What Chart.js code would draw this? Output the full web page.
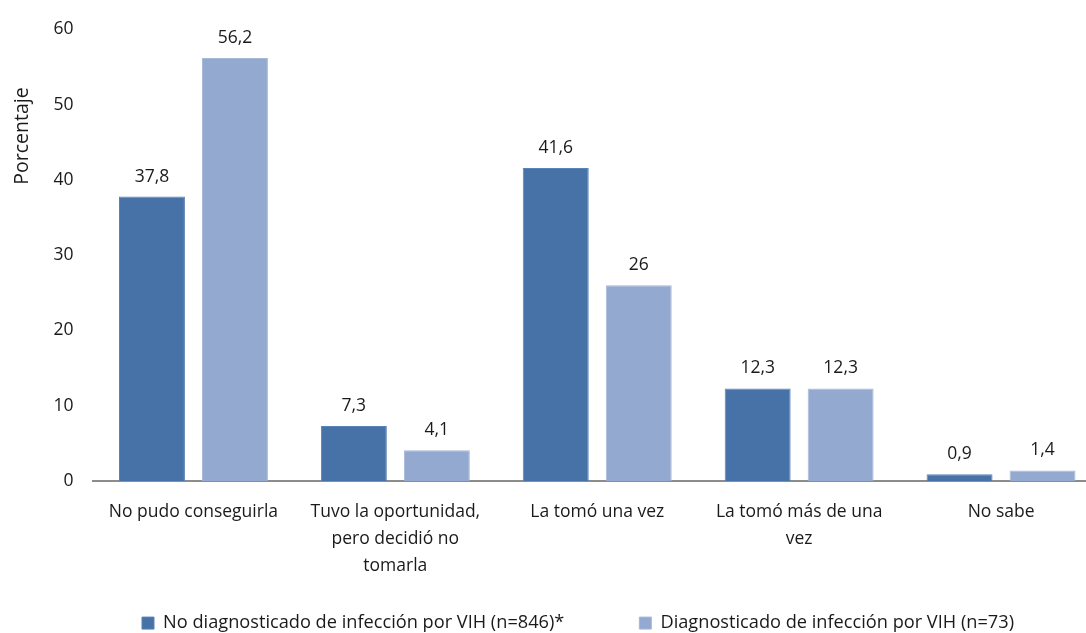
<!DOCTYPE html>
<html>
<head>
<meta charset="utf-8">
<script src="https://cdn.jsdelivr.net/npm/chart.js@4"></script>
<style>
  html, body { margin: 0; padding: 0; background: #fff; overflow: hidden; }
  #wrap { width: 1110px; height: 633px; }
</style>
</head>
<body>
<div id="wrap"><canvas id="grafico"></canvas></div>
<script>
const categorias = [
    ['No pudo conseguirla'],
    ['Tuvo la oportunidad,', 'pero decidió no', 'tomarla'],
    ['La tomó una vez'],
    ['La tomó más de una', 'vez'],
    ['No sabe']
];
const noDiagnosticado = [37.8, 7.3, 41.6, 12.3, 0.9];
const diagnosticado = [56.2, 4.1, 26, 12.3, 1.4];
const nombresSeries = ['No diagnosticado de infección por VIH (n=846)*', 'Diagnosticado de infección por VIH (n=73)'];
const ticksY = [0, 10, 20, 30, 40, 50, 60];

const fuente = "'Open Sans', 'DejaVu Sans', sans-serif";

// etiquetas encima de cada barra
const etiquetasBarras = {
    id: 'etiquetasBarras',
    afterDatasetsDraw(chart){
        const ctx = chart.ctx;
        ctx.save();
        ctx.font = '17.5px ' + fuente;
        ctx.fillStyle = '#1a1a1a';
        ctx.textAlign = 'center';
        ctx.textBaseline = 'middle';
        chart.data.datasets.forEach((ds, i) => {
            chart.getDatasetMeta(i).data.forEach((barra, j) => {
                ctx.fillText(String(ds.data[j]).replace('.', ','), barra.x, barra.y - 20);
            });
        });
        ctx.restore();
    }
};

// titulo del eje y y posicion de la leyenda
const ajustes = {
    id: 'ajustes',
    beforeDraw(chart){
        const l = chart.legend;
        const w = l.right - l.left, h = l.bottom - l.top;
        l.left = 578 - w/2; l.right = l.left + w;
        l.top = 539; l.bottom = l.top + h;
    },
    afterDraw(chart){
        const ctx = chart.ctx;
        ctx.save();
        ctx.translate(22, 136);
        ctx.rotate(-Math.PI/2);
        ctx.font = '19.5px ' + fuente;
        ctx.fillStyle = '#1a1a1a';
        ctx.textAlign = 'center';
        ctx.textBaseline = 'middle';
        ctx.fillText('Porcentaje', 0, 0);
        ctx.restore();
    }
};

new Chart(document.getElementById('grafico'), {
    type: 'bar',
    data: {
        labels: categorias,
        datasets: [
            { label: nombresSeries[0], data: noDiagnosticado, backgroundColor: '#4672a8', borderColor: '#5a82b4', borderWidth: 1 },
            { label: nombresSeries[1], data: diagnosticado, backgroundColor: '#94a9d0', borderColor: '#a6b8da', borderWidth: 1 }
        ]
    },
    options: {
        responsive: true,
        maintainAspectRatio: false,
        animation: false,
        datasets: { bar: { categoryPercentage: 0.822, barPercentage: 0.795 } },
        layout: { padding: { left: 0, right: 8, top: 27, bottom: -63.2 } },
        plugins: {
            tooltip: { enabled: false },
            legend: {
                position: 'bottom',
                labels: {
                    boxWidth: 12, boxHeight: 12, padding: 75,
                    color: '#1a1a1a',
                    font: { family: fuente, size: 18.2 }
                }
            }
        },
        scales: {
            x: {
                grid: { display: false, drawTicks: false },
                border: { color: '#8c8c8c', width: 2 },
                ticks: { color: '#1a1a1a', padding: 18, maxRotation: 0, font: { family: fuente, size: 17.5, lineHeight: 1.53 } },
                afterFit(scale){ scale.height = 112; }
            },
            y: {
                min: 0, max: 60,
                grid: { display: false, drawTicks: false },
                border: { display: false },
                afterBuildTicks(scale){ scale.ticks = ticksY.map(v => ({ value: v })); },
                ticks: { color: '#1a1a1a', padding: 19, font: { family: fuente, size: 17.5 } },
                afterFit(scale){ scale.width = 92.5; }
            }
        }
    },
    plugins: [etiquetasBarras, ajustes]
});
</script>
</body>
</html>
